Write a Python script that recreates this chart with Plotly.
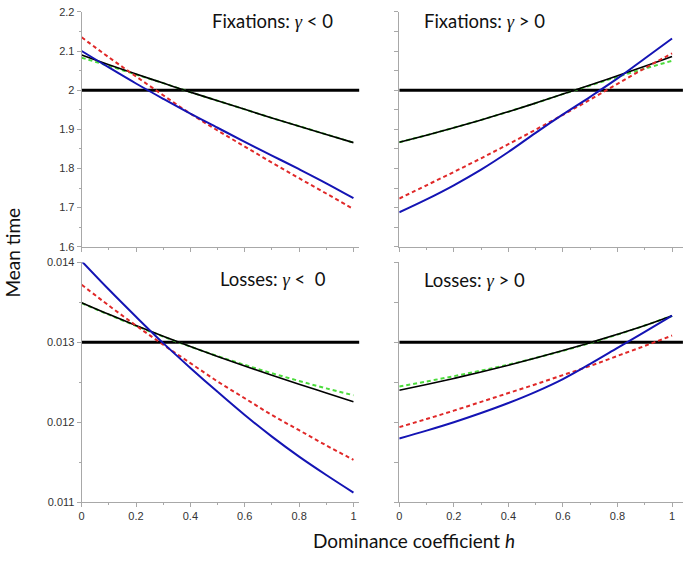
import plotly.graph_objects as go

# ---------------- data ----------------
h = [0.0, 0.1, 0.2, 0.3, 0.4, 0.5, 0.6, 0.7, 0.8, 0.9, 1.0]

# Fixations, gamma < 0
fix_neg_blue = [2.100, 2.058, 2.017, 1.978, 1.940, 1.904, 1.868, 1.833, 1.798, 1.762, 1.724]
fix_neg_red = [2.135, 2.084, 2.035, 1.987, 1.940, 1.897, 1.856, 1.815, 1.775, 1.736, 1.696]
fix_neg_green = [2.083, 2.062, 2.040, 2.018, 1.995, 1.973, 1.951, 1.929, 1.908, 1.887, 1.866]
fix_neg_black = [2.090, 2.065, 2.041, 2.018, 1.995, 1.973, 1.951, 1.929, 1.908, 1.887, 1.866]

# Fixations, gamma > 0
fix_pos_blue = [1.688, 1.721, 1.757, 1.797, 1.842, 1.891, 1.938, 1.983, 2.030, 2.081, 2.132]
fix_pos_red = [1.723, 1.757, 1.791, 1.826, 1.862, 1.899, 1.937, 1.976, 2.016, 2.056, 2.094]
fix_pos_green = [1.867, 1.885, 1.904, 1.924, 1.945, 1.967, 1.990, 2.012, 2.034, 2.055, 2.075]
fix_pos_black = [1.867, 1.885, 1.904, 1.924, 1.945, 1.967, 1.990, 2.013, 2.037, 2.061, 2.086]

# Losses, gamma < 0
loss_neg_blue = [0.014015, 0.01366, 0.01332, 0.01299, 0.01268, 0.01238, 0.01209, 0.01182, 0.01157, 0.01134, 0.01112]
loss_neg_red = [0.01372, 0.01346, 0.01321, 0.01297, 0.01274, 0.01251, 0.01230, 0.01209, 0.01190, 0.01171, 0.01153]
loss_neg_green = [0.013490, 0.013346, 0.013206, 0.013072, 0.012946, 0.012828, 0.012718, 0.012614, 0.012516, 0.012424, 0.012338]
loss_neg_black = [0.013496, 0.013350, 0.013210, 0.013076, 0.012948, 0.012824, 0.012704, 0.012588, 0.012476, 0.012366, 0.012256]

# Losses, gamma > 0
loss_pos_blue = [0.011796, 0.011895, 0.012000, 0.012115, 0.012240, 0.012380, 0.012540, 0.012730, 0.012930, 0.013130, 0.013333]
loss_pos_red = [0.011939, 0.012040, 0.012145, 0.012255, 0.012365, 0.012475, 0.012590, 0.012705, 0.012830, 0.012955, 0.013085]
loss_pos_green = [0.012447, 0.012510, 0.012576, 0.012646, 0.012721, 0.012804, 0.012894, 0.012992, 0.013097, 0.013210, 0.013330]
loss_pos_black = [0.012400, 0.012472, 0.012548, 0.012628, 0.012713, 0.012803, 0.012897, 0.012996, 0.013100, 0.013210, 0.013333]

fix_neutral = 2.0
loss_neutral = 0.013

x_tickvals = [0, 0.2, 0.4, 0.6, 0.8, 1]
x_ticktext = ["0", "0.2", "0.4", "0.6", "0.8", "1"]
fix_tickvals = [1.6, 1.7, 1.8, 1.9, 2.0, 2.1, 2.2]
fix_ticktext = ["1.6", "1.7", "1.8", "1.9", "2", "2.1", "2.2"]
loss_tickvals = [0.011, 0.012, 0.013, 0.014]
loss_ticktext = ["0.011", "0.012", "0.013", "0.014"]

panel_titles = ["Fixations: ", "Fixations: ", "Losses: ", "Losses: "]
panel_signs = ["< 0", "> 0", "<  0", "> 0"]

# ---------------- figure ----------------
W, H = 683, 561
BLUE = "#1414b4"
RED = "#e02828"
GREEN = "#4cdc3c"
BLACK = "#000000"
AXC = "#a8a8a8"

XMAX_L = 1.022
XMAX_R = 1.04

panels = [
    ("x", "y", (fix_neg_green, fix_neg_black, fix_neg_red, fix_neg_blue), fix_neutral, XMAX_L),
    ("x2", "y2", (fix_pos_green, fix_pos_black, fix_pos_red, fix_pos_blue), fix_neutral, XMAX_R),
    ("x3", "y3", (loss_neg_green, loss_neg_black, loss_neg_red, loss_neg_blue), loss_neutral, XMAX_L),
    ("x4", "y4", (loss_pos_green, loss_pos_black, loss_pos_red, loss_pos_blue), loss_neutral, XMAX_R),
]

fig = go.Figure()
for xa, ya, (g, k, r, b), neutral, xmax in panels:
    fig.add_trace(go.Scatter(x=[0, xmax], y=[neutral, neutral], mode="lines",
                             line=dict(color=BLACK, width=3), xaxis=xa, yaxis=ya, showlegend=False))
    fig.add_trace(go.Scatter(x=h, y=g, mode="lines", line=dict(color=GREEN, width=2, dash="4px,3px", shape="spline"),
                             xaxis=xa, yaxis=ya, showlegend=False))
    fig.add_trace(go.Scatter(x=h, y=k, mode="lines", line=dict(color=BLACK, width=1.6, shape="spline"),
                             xaxis=xa, yaxis=ya, showlegend=False))
    fig.add_trace(go.Scatter(x=h, y=r, mode="lines", line=dict(color=RED, width=2, dash="4px,3px", shape="spline"),
                             xaxis=xa, yaxis=ya, showlegend=False))
    fig.add_trace(go.Scatter(x=h, y=b, mode="lines", line=dict(color=BLUE, width=2, shape="spline"),
                             xaxis=xa, yaxis=ya, showlegend=False))


def px_x(a, b):
    return [a / W, min(1.0, b / W)]


def px_y(top, bottom):
    return [1 - bottom / H, 1 - top / H]


tickfont = dict(family="Liberation Sans, Arial, sans-serif", size=11, color="#333333")

L0 = 79
L1 = L0 + 273 * XMAX_L
R0 = 398
R1 = R0 + 274 * XMAX_R


def xaxis_cfg(dom, xmax, labels, anchor):
    return dict(domain=dom, range=[0, xmax], anchor=anchor, showgrid=False, zeroline=False,
                showline=True, linecolor=AXC, linewidth=1, ticks="outside", ticklen=4, tickcolor=AXC,
                tickvals=x_tickvals, ticktext=x_ticktext, showticklabels=labels, tickfont=tickfont,
                ticklabeloverflow="allow",
                minor=dict(tickvals=[0.1, 0.3, 0.5, 0.7, 0.9], ticks="outside", ticklen=2, tickcolor=AXC))


def yaxis_cfg(dom, rng, tv, tt, minor_vals, labels, anchor):
    return dict(domain=dom, range=rng, anchor=anchor, showgrid=False, zeroline=False,
                showline=True, linecolor=AXC, linewidth=1, ticks="outside", ticklen=4, tickcolor=AXC,
                tickvals=tv, ticktext=tt, showticklabels=labels, tickfont=tickfont,
                minor=dict(tickvals=minor_vals, ticks="outside", ticklen=2 if labels else 4, tickcolor=AXC))


fix_minor = [1.65, 1.75, 1.85, 1.95, 2.05, 2.15]
loss_minor = [0.0115, 0.0125, 0.0135]

top_dom = px_y(6, 246)
bot_dom = px_y(262, 507)

fig.update_layout(
    width=W, height=H,
    margin=dict(l=0, r=0, t=0, b=0),
    paper_bgcolor="white", plot_bgcolor="white",
    xaxis=xaxis_cfg(px_x(L0, L1), XMAX_L, False, "y"),
    yaxis=yaxis_cfg(top_dom, [1.6, 2.2], fix_tickvals, fix_ticktext, fix_minor, True, "x"),
    xaxis2=xaxis_cfg(px_x(R0, R1), XMAX_R, False, "y2"),
    yaxis2=yaxis_cfg(top_dom, [1.6, 2.2], fix_tickvals, fix_ticktext, fix_minor, False, "x2"),
    xaxis3=xaxis_cfg(px_x(L0, L1), XMAX_L, True, "y3"),
    yaxis3=yaxis_cfg(bot_dom, [0.011, 0.014], loss_tickvals, loss_ticktext, loss_minor, True, "x3"),
    xaxis4=xaxis_cfg(px_x(R0, R1), XMAX_R, True, "y4"),
    yaxis4=yaxis_cfg(bot_dom, [0.011, 0.014], loss_tickvals, loss_ticktext, loss_minor, False, "x4"),
)

gamma = "<span style=\"font-family:'Liberation Serif', 'DejaVu Serif', serif;font-style:italic\">γ</span>"
title_font = dict(family="Lato, 'Open Sans', sans-serif", size=18.5, color="#111111")
title_pos = [(271, 15), (484, 15), (271, 279), (474, 280)]
for (px, py), t, s in zip(title_pos, panel_titles, panel_signs):
    fig.add_annotation(x=px / W, y=1 - py / H, xref="paper", yref="paper", xanchor="center", yanchor="middle",
                       text=t + gamma + " " + s, showarrow=False, font=title_font)

fig.add_annotation(x=10 / W, y=1 - 252 / H, xref="paper", yref="paper", text="Mean time", textangle=-90,
                   showarrow=False, font=dict(family="Lato, 'Open Sans', sans-serif", size=19, color="#111111"),
                   xanchor="center", yanchor="middle")
fig.add_annotation(x=413 / W, y=1 - 546 / H, xref="paper", yref="paper",
                   text="Dominance coefficient <i>h</i>", showarrow=False,
                   font=dict(family="Lato, 'Open Sans', sans-serif", size=19, color="#111111"),
                   xanchor="center", yanchor="middle")

fig.write_html("out.html", config={"displayModeBar": False},
               post_script="document.body.style.margin='0';document.body.style.overflow='hidden';")
